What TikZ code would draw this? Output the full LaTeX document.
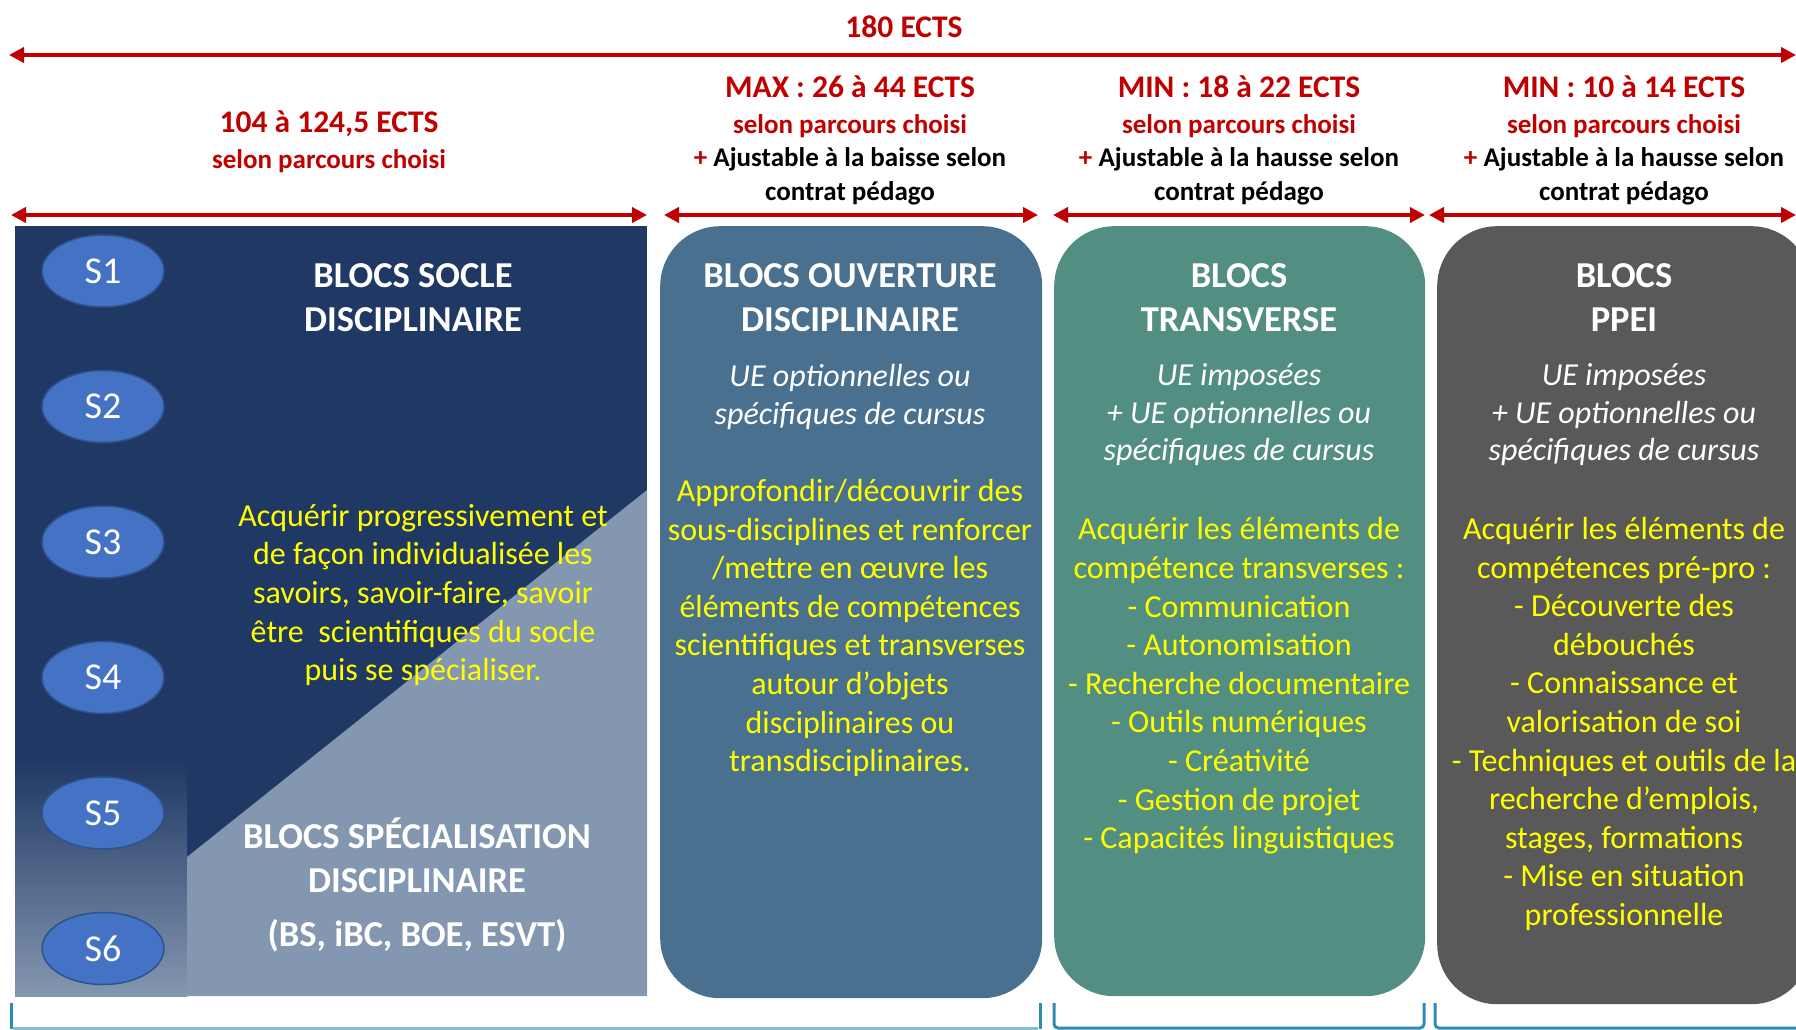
\documentclass[tikz,border=0pt]{standalone}
\usepackage{fontspec}
\setmainfont{Carlito}
\usetikzlibrary{positioning, shapes.geometric, arrows.meta}

\definecolor{rougeects}{RGB}{192,0,0}
\definecolor{bleusocle}{RGB}{32,56,100}
\definecolor{grisspecia}{RGB}{132,151,176}
\definecolor{bleusem}{RGB}{68,114,196}
\definecolor{traitsem}{RGB}{47,82,143}
\definecolor{bleuouv}{RGB}{73,112,143}
\definecolor{vertrans}{RGB}{83,142,131}
\definecolor{grisppei}{RGB}{89,89,89}
\definecolor{accolade}{RGB}{46,139,181}
\definecolor{accoclair}{RGB}{135,190,208}
\definecolor{jaunetxt}{RGB}{255,255,0}

\newcommand\grand{\fontsize{31.5}{37}\selectfont}
\newcommand\noir[1]{\textcolor{black}{#1}}

\tikzset{
  ects/.style={rougeects, line width=4pt,
    {Triangle[length=15pt,width=15pt]}-{Triangle[length=15pt,width=15pt]}},
  bloc/.style={anchor=north west, inner sep=0, rounded corners=60pt},
  sem/.style={ellipse, fill=bleusem, draw=traitsem, line width=1.5pt,
    minimum width=122pt, minimum height=72pt, inner sep=0,
    text=white, font=\fontsize{38}{44}\selectfont},
  entete/.style={align=center, inner sep=0, text=rougeects,
    font=\fontsize{27}{33.5}\selectfont\bfseries},
  titre/.style={align=center, inner sep=0, text=white,
    font=\fontsize{36.5}{44}\selectfont\bfseries},
  ue/.style={align=center, inner sep=0, text=white,
    font=\fontsize{32}{37.5}\selectfont\itshape},
  jaune/.style={align=center, inner sep=0, text=jaunetxt,
    font=\fontsize{32}{38.6}\selectfont}
}

\begin{document}
\begin{tikzpicture}[x=1pt, y=-1pt]
\useasboundingbox (0,0) rectangle (1796,1030);
\clip (0,0) rectangle (1796,1030);

% ECTS arrows
\node[text=rougeects, inner sep=0, font=\grand\bfseries] (total) at (904,27) {180 ECTS};
\coordinate (g0) at (9,55);
\coordinate (d0) at (1796,55);
\draw[ects] (g0) -- (d0);
\foreach \n/\a/\b in {1/11/647, 2/664/1038, 3/1053/1425, 4/1429/1796} {
  \coordinate (g\n) at (\a,215);
  \coordinate (d\n) at (\b,215);
  \draw[ects] (g\n) -- (d\n);
}

\node[entete] (hsocle) at (329,141.5) {{\grand 104 à 124,5 ECTS}\\[2pt]selon parcours choisi};
\node[entete] (houv) at (850,140.5) {{\grand MAX : 26 à 44 ECTS}\\[2pt]selon parcours choisi\\
  + \noir{Ajustable à la baisse selon}\\\noir{contrat pédago}};
\node[entete] (htrans) at (1239,140.5) {{\grand MIN : 18 à 22 ECTS}\\[2pt]selon parcours choisi\\
  + \noir{Ajustable à la hausse selon}\\\noir{contrat pédago}};
\node[entete] (hppei) at (1624,140.5) {{\grand MIN : 10 à 14 ECTS}\\[2pt]selon parcours choisi\\
  + \noir{Ajustable à la hausse selon}\\\noir{contrat pédago}};

% blocs
\node[fill=bleusocle, anchor=north west, inner sep=0,
  minimum width=632pt, minimum height=770pt] (socle) at (15,226) {};
\shade[top color=bleusocle, bottom color=grisspecia] (15,762) rectangle (187,996);
\fill[grisspecia] (187,857) -- (647,490) |- (187,996) -- cycle;
\node[bloc, fill=bleuouv, minimum width=382pt, minimum height=772pt] (ouv) at (660,226) {};
\node[bloc, fill=vertrans, minimum width=371pt, minimum height=770pt] (trans) at (1054,226) {};
\node[bloc, fill=grisppei, minimum width=374pt, minimum height=778pt] (ppei) at (1437,226) {};

% semestres
\node[sem] (s1) at (103,271) {S1};
\foreach \i [remember=\i as \j (initially 1)] in {2,...,6}
  \node[sem, below=62pt of s\j] (s\i) {S\i};

\node[titre] (tsocle) at (413,298) {BLOCS SOCLE\\DISCIPLINAIRE};
\node[jaune] (jsocle) at (423,595) {Acquérir progressivement et\\de façon individualisée les\\
  savoirs, savoir-faire, savoir\\être~ scientifiques du socle\\puis se spécialiser.};
\node[titre] (tspe) at (417,885) {BLOCS SPÉCIALISATION\\DISCIPLINAIRE\\[10pt](BS, iBC, BOE, ESVT)};

\node[titre] (touv) at (850,298) {BLOCS OUVERTURE\\DISCIPLINAIRE};
\node[ue] (uouv) at (850,397) {UE optionnelles ou\\spécifiques de cursus};
\node[jaune] (jouv) at (850,628) {Approfondir/découvrir des\\sous-disciplines et renforcer\\
  /mettre en œuvre les\\éléments de compétences\\scientifiques et transverses\\
  autour d’objets\\disciplinaires ou\\transdisciplinaires.};

\node[titre] (ttrans) at (1239,298) {BLOCS\\TRANSVERSE};
\node[ue] (utrans) at (1239,415) {UE imposées\\+ UE optionnelles ou\\spécifiques de cursus};
\node[jaune] (jtrans) at (1239,686) {Acquérir les éléments de\\compétence transverses :\\
  - Communication\\- Autonomisation\\- Recherche documentaire\\- Outils numériques\\
  - Créativité\\- Gestion de projet\\- Capacités linguistiques};

\node[titre] (tppei) at (1624,298) {BLOCS\\PPEI};
\node[ue] (uppei) at (1624,415) {UE imposées\\+ UE optionnelles ou\\spécifiques de cursus};
\node[jaune] (jppei) at (1624,724) {Acquérir les éléments de\\compétences pré-pro :\\
  - Découverte des\\débouchés\\- Connaissance et\\valorisation de soi\\
  - Techniques et outils de la\\recherche d’emplois,\\stages, formations\\
  - Mise en situation\\professionnelle};

% accolades du bas
\draw[accoclair, line width=3pt] (13,1028) -- (1038,1028);
\draw[accolade, line width=3pt, rounded corners=3pt] (11,1003) -- (11,1029);
\draw[accolade, line width=3pt] (1040,1003) -- (1040,1029);
\draw[accolade, line width=3pt, rounded corners=4pt] (1054,1003) |- (1424,1028) -- (1424,1003);
\draw[accolade, line width=3pt, rounded corners=4pt] (1435,1003) |- (1800,1028);
\end{tikzpicture}
\end{document}
